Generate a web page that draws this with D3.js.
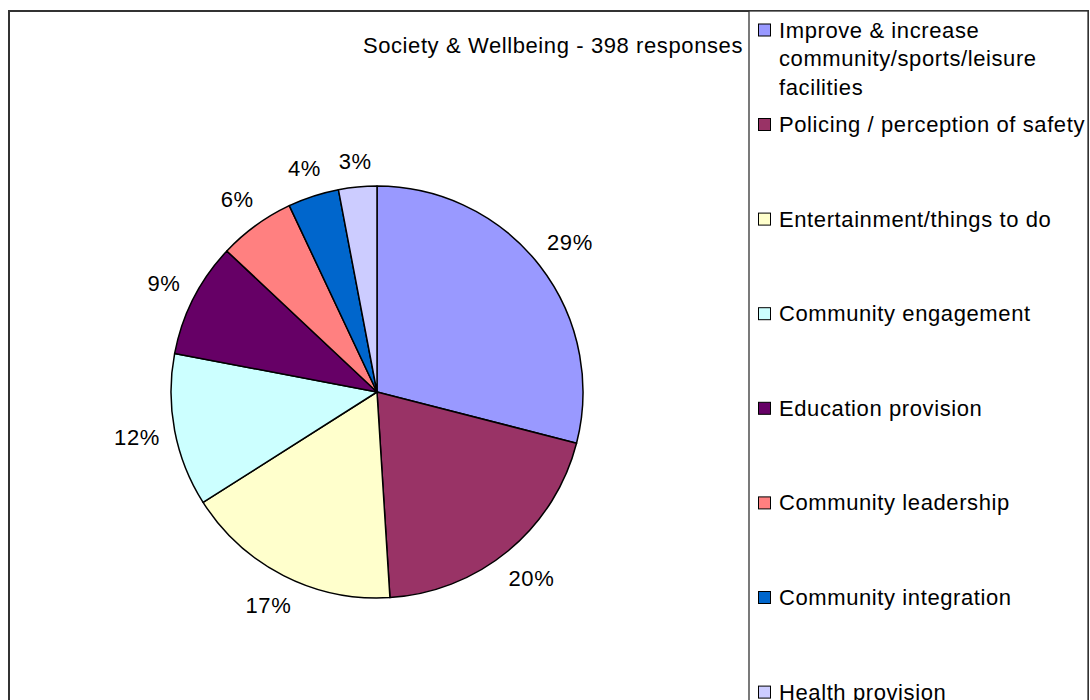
<!DOCTYPE html>
<html>
<head>
<meta charset="utf-8">
<script src="https://cdn.jsdelivr.net/npm/d3@7"></script>
<style>
  html, body { margin: 0; padding: 0; background: #fff; }
  svg { display: block; font-family: "Liberation Sans", Arial, sans-serif; }
</style>
</head>
<body>
<svg id="chart" width="1090" height="700"></svg>
<script>
// Society & Wellbeing survey responses, share of each theme (%)
const categories = [
  "Improve & increase community/sports/leisure facilities",
  "Policing / perception of safety",
  "Entertainment/things to do",
  "Community engagement",
  "Education provision",
  "Community leadership",
  "Community integration",
  "Health provision"
];
const values = [29, 20, 17, 12, 9, 6, 4, 3];
const colors = ["#9999FF", "#993366", "#FFFFCC", "#CCFFFF", "#660066", "#FF8080", "#0066CC", "#CCCCFF"];
// legend text wrapped into lines
const legendLines = [
  ["Improve & increase", "community/sports/leisure", "facilities"],
  ["Policing / perception of safety"],
  ["Entertainment/things to do"],
  ["Community engagement"],
  ["Education provision"],
  ["Community leadership"],
  ["Community integration"],
  ["Health provision"]
];
const title = "Society & Wellbeing - 398 responses";

const svg = d3.select("#chart");
const fontSize = 22;
const spacing = 0.6;

// chart frame and legend box
svg.append("rect")
  .attr("x", 9).attr("y", 11).attr("width", 1079).attr("height", 720)
  .attr("fill", "#fff").attr("stroke", "#333").attr("stroke-width", 2);
svg.append("rect")
  .attr("x", 749).attr("y", 11).attr("width", 339).attr("height", 720)
  .attr("fill", "#fff").attr("stroke", "#333").attr("stroke-width", 1.3);

// title
svg.append("text")
  .attr("x", 743).attr("y", 45)
  .attr("text-anchor", "end")
  .attr("dominant-baseline", "central")
  .attr("font-size", fontSize)
  .attr("letter-spacing", spacing)
  .attr("fill", "#000")
  .text(title);

// pie
const cx = 377, cy = 392, r = 206;
const pie = d3.pie().sort(null).value(d => d)(values);
const arc = d3.arc().innerRadius(0).outerRadius(r);
const g = svg.append("g").attr("transform", `translate(${cx},${cy})`);

g.selectAll("path.slice")
  .data(pie)
  .join("path")
  .attr("class", "slice")
  .attr("d", arc)
  .attr("fill", (d, i) => colors[i])
  .attr("stroke", "#000")
  .attr("stroke-width", 1.5)
  .attr("stroke-linejoin", "round");

// percentage labels outside the slices
const gap = 14;
g.selectAll("text.pct")
  .data(pie)
  .join("text")
  .attr("class", "pct")
  .attr("font-size", fontSize)
  .attr("letter-spacing", spacing)
  .attr("text-anchor", "middle")
  .attr("dominant-baseline", "central")
  .text(d => d.value + "%")
  .each(function(d) {
    const a = (d.startAngle + d.endAngle) / 2;
    const ux = Math.sin(a), uy = -Math.cos(a);
    const w = this.getComputedTextLength();
    const h = fontSize * 0.9;
    const dist = r + gap + Math.abs(ux) * w / 2 + Math.abs(uy) * h / 2;
    d3.select(this).attr("x", ux * dist).attr("y", uy * dist);
  });

// legend
const itemY = i => i === 0 ? 30 : 124.5 + (i - 1) * 94.6;
const lineH = 28.5;
const legend = svg.append("g");
legendLines.forEach((lines, i) => {
  const y0 = itemY(i);
  const it = legend.append("g");
  it.append("rect")
    .attr("x", 758.5).attr("y", y0 - 6).attr("width", 12).attr("height", 12)
    .attr("fill", colors[i]).attr("stroke", "#000").attr("stroke-width", 1);
  lines.forEach((t, k) => {
    it.append("text")
      .attr("x", 779).attr("y", y0 + k * lineH)
      .attr("dominant-baseline", "central")
      .attr("font-size", fontSize)
      .attr("letter-spacing", spacing)
      .attr("fill", "#000")
      .text(t);
  });
});
</script>
</body>
</html>
